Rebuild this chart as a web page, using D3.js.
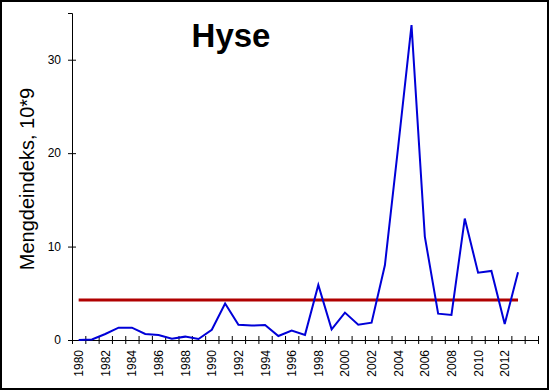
<!DOCTYPE html>
<html>
<head>
<meta charset="utf-8">
<script src="https://cdn.jsdelivr.net/npm/d3@7"></script>
<style>
  body { margin: 0; background: #fff; }
  svg { display: block; font-family: "Liberation Sans", Arial, sans-serif; }
</style>
</head>
<body>
<div id="chart"></div>
<script>
// years on the category axis (last slot is empty)
const years = d3.range(1980, 2015);
// Hyse index values, 1980-2013
const hyseIndex = [0.0, 0.05, 0.64, 1.32, 1.32, 0.64, 0.54, 0.14, 0.36, 0.11,
  1.1, 3.9, 1.64, 1.54, 1.6, 0.43, 1.0, 0.55, 5.9, 1.14,
  2.93, 1.64, 1.86, 8.0, 20.7, 33.7, 11.07, 2.82, 2.68, 13.0,
  7.21, 7.39, 1.71, 7.25];
const meanLevel = 4.29;
const yTicks = [0, 10, 20, 30];
const xLabels = ["1980", "1982", "1984", "1986", "1988", "1990", "1992", "1994",
  "1996", "1998", "2000", "2002", "2004", "2006", "2008", "2010", "2012"];

const W = 550, H = 392;
const plot = { left: 72, right: 538, top: 13, bottom: 340 };

const svg = d3.select("#chart").append("svg")
  .attr("width", W)
  .attr("height", H);

// outer frame
svg.append("rect")
  .attr("x", 1).attr("y", 1)
  .attr("width", 547).attr("height", 388)
  .attr("fill", "#fff")
  .attr("stroke", "#000")
  .attr("stroke-width", 2);

//---------------------------------------------------------------- scales
const x = d3.scaleBand()
  .domain(years)
  .range([plot.left, plot.right])
  .padding(0);

const xEdges = d3.scaleLinear() // for ticks between categories
  .domain([0, years.length])
  .range([plot.left, plot.right]);

const y = d3.scaleLinear()
  .domain([0, 35])
  .range([plot.bottom, plot.top]);

const cx = d => x(d) + x.bandwidth() / 2;

//---------------------------------------------------------------- axes
const yAxis = svg.append("g")
  .attr("transform", "translate(" + plot.left + ",0)")
  .call(d3.axisLeft(y).tickValues(yTicks).tickSizeOuter(0).tickSize(4).tickPadding(7));
yAxis.selectAll(".tick line").attr("x1", -4).attr("x2", 4);
yAxis.selectAll("text").attr("font-size", 12).attr("fill", "#000")
  .attr("font-family", "Liberation Sans, Arial, sans-serif");

const xAxis = svg.append("g")
  .attr("transform", "translate(0," + plot.bottom + ")")
  .call(d3.axisBottom(xEdges).tickValues(d3.range(0, years.length + 1))
    .tickSizeOuter(0).tickFormat(""));
xAxis.selectAll(".tick line").attr("y1", -4).attr("y2", 4);

svg.selectAll(".xlab")
  .data(xLabels)
  .enter().append("text")
  .attr("class", "xlab")
  .attr("transform", d => "translate(" + (cx(+d) + 4.5) + ",350) rotate(-90)")
  .attr("text-anchor", "end")
  .attr("font-size", 12)
  .text(d => d);

//---------------------------------------------------------------- lines
const dataYears = years.slice(0, hyseIndex.length);

svg.append("line")
  .attr("x1", cx(dataYears[0]))
  .attr("x2", cx(dataYears[dataYears.length - 1]))
  .attr("y1", y(meanLevel))
  .attr("y2", y(meanLevel))
  .attr("stroke", "#b00000")
  .attr("stroke-width", 3);

const line = d3.line()
  .x((d, i) => cx(dataYears[i]))
  .y(d => y(d));

svg.append("path")
  .datum(hyseIndex)
  .attr("d", line)
  .attr("fill", "none")
  .attr("stroke", "#0000d8")
  .attr("stroke-width", 2)
  .attr("stroke-linejoin", "miter");

//---------------------------------------------------------------- text
svg.append("text")
  .attr("x", 231)
  .attr("y", 47)
  .attr("text-anchor", "middle")
  .attr("font-size", 33)
  .attr("font-weight", "bold")
  .text("Hyse");

svg.append("text")
  .attr("transform", "translate(34,179) rotate(-90)")
  .attr("text-anchor", "middle")
  .attr("font-size", 20)
  .text("Mengdeindeks, 10*9");
</script>
</body>
</html>
